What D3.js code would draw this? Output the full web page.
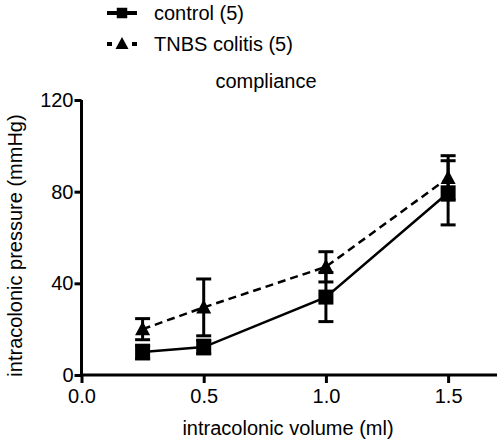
<!DOCTYPE html>
<html><head><meta charset="utf-8">
<script src="https://cdn.jsdelivr.net/npm/d3@7"></script>
<style>body{margin:0;background:#fff}svg{display:block}text{font-family:"Liberation Sans",Arial,sans-serif;fill:#000}</style>
</head><body>
<script>
const volumes = [0.25, 0.5, 1.0, 1.5];
const controlMean = [10, 12.2, 34, 79.5];
const controlSem = [3, 3, 10.7, 14];
const tnbsMean = [20, 29.5, 47.2, 86];
const tnbsSem = [4.6, 12.4, 6.6, 9.7];
const xTicks = [0, 0.5, 1.0, 1.5];
const yTicks = [0, 40, 80, 120];
const seriesNames = ["control (5)", "TNBS colitis (5)"];
const title = "compliance";
const xTitle = "intracolonic volume (ml)";
const yTitle = "intracolonic pressure (mmHg)";

const W = 500, H = 442;
const svg = d3.select("body").append("svg").attr("width", W).attr("height", H);
const x = d3.scaleLinear().domain([0, 1.7]).range([81.5, 497]);
const y = d3.scaleLinear().domain([0, 120]).range([375, 100]);

const fs = 20;
// axes
const xAxis = svg.append("g").attr("transform", `translate(0,${y(0)})`)
  .call(d3.axisBottom(x).tickValues(xTicks).tickFormat(d3.format(".1f")).tickSize(8).tickPadding(6));
const yAxis = svg.append("g").attr("transform", `translate(${x(0)},0)`)
  .call(d3.axisLeft(y).tickValues(yTicks).tickFormat(d3.format("d")).tickSize(7).tickPadding(1));
[xAxis, yAxis].forEach(g => {
  g.selectAll("path.domain").attr("stroke", "#000").attr("stroke-width", 3);
  g.selectAll(".tick line").attr("stroke", "#000").attr("stroke-width", 3);
  g.selectAll(".tick text").style("font-size", fs + "px").attr("fill", "#000");
  g.attr("font-family", null);
});
xAxis.select("path.domain").attr("d", `M${x(0)},0H${x(1.7)}`);
yAxis.select("path.domain").attr("d", `M0,${y(120)}V${y(0)}`);

svg.append("text").attr("x", 288).attr("y", 435).attr("text-anchor", "middle").style("font-size", fs + "px").text(xTitle);
svg.append("text").attr("transform", `translate(22,${(y(0) + y(120)) / 2 + 8}) rotate(-90)`).attr("text-anchor", "middle").style("font-size", fs + "px").text(yTitle);
svg.append("text").attr("x", 266).attr("y", 88).attr("text-anchor", "middle").style("font-size", fs + "px").text(title);

function drawSeries(means, sems, dash, shape) {
  const g = svg.append("g");
  const pts = volumes.map((v, i) => ({ v, m: means[i], s: sems[i] }));
  // error bars
  pts.forEach(p => {
    g.append("line").attr("x1", x(p.v)).attr("x2", x(p.v)).attr("y1", y(p.m - p.s)).attr("y2", y(p.m + p.s)).attr("stroke", "#000").attr("stroke-width", 3);
    [p.m - p.s, p.m + p.s].forEach(e => g.append("line").attr("x1", x(p.v) - 7.5).attr("x2", x(p.v) + 7.5).attr("y1", y(e)).attr("y2", y(e)).attr("stroke", "#000").attr("stroke-width", 3));
  });
  g.append("path").datum(pts).attr("fill", "none").attr("stroke", "#000").attr("stroke-width", 2.5)
    .attr("stroke-dasharray", dash).attr("d", d3.line().x(d => x(d.v)).y(d => y(d.m)));
  g.selectAll(".mk").data(pts).join("path").attr("fill", "#000")
    .attr("transform", d => `translate(${x(d.v)},${y(d.m)})`).attr("d", shape);
}
const sq = d3.symbol(d3.symbolSquare, 225)();
const tri = "M0,-8L7.5,6L-7.5,6Z";
drawSeries(tnbsMean, tnbsSem, "8,5", tri);
drawSeries(controlMean, controlSem, null, sq);

// legend
const lg = svg.append("g");
lg.append("line").attr("x1", 107).attr("x2", 137).attr("y1", 13).attr("y2", 13).attr("stroke", "#000").attr("stroke-width", 4);
lg.append("path").attr("transform", "translate(122,13)").attr("d", d3.symbol(d3.symbolSquare, 110)()).attr("fill", "#000");
lg.append("line").attr("x1", 107).attr("x2", 137).attr("y1", 44).attr("y2", 44).attr("stroke", "#000").attr("stroke-width", 4).attr("stroke-dasharray", "5,20,5");
lg.append("path").attr("transform", "translate(122,44)").attr("d", "M0,-7L6.5,5L-6.5,5Z").attr("fill", "#000");
lg.append("text").attr("x", 154).attr("y", 20).style("font-size", fs + "px").text(seriesNames[0]);
lg.append("text").attr("x", 154).attr("y", 51).style("font-size", fs + "px").text(seriesNames[1]);
</script>
</body></html>
